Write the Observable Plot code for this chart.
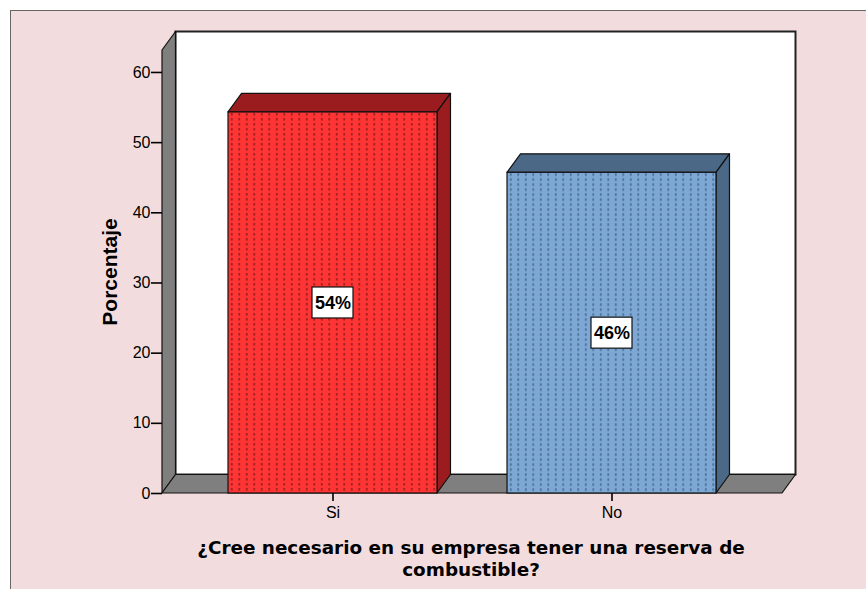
<!DOCTYPE html>
<html><head><meta charset="utf-8">
<script src="https://cdn.jsdelivr.net/npm/d3@7"></script>
<script src="https://cdn.jsdelivr.net/npm/@observablehq/plot@0.6"></script>
<style>
body{margin:0;background:#fff;}
#wrap{position:relative;width:866px;height:589px;overflow:hidden;}
#panel{position:absolute;left:10px;top:10px;width:900px;height:640px;background:#f3dcdd;border-top:1.5px solid #666;border-left:1.5px solid #666;}
#chart{position:absolute;left:0;top:0;}
</style></head><body>
<div id="wrap"><div id="panel"></div><div id="chart"></div></div>
<script>
// ---- data ----
const categories = ["Si", "No"];
const percentages = [54.3, 45.7];
const valueLabels = ["54%", "46%"];
const yTicks = [0, 10, 20, 30, 40, 50, 60];
const yMax = 63.13;
const yTitle = "Porcentaje";
const xTitleLines = ["¿Cree necesario en su empresa tener una reserva de", "combustible?"];
const frontColors = ["#ff3434", "#7da8d6"];
const darkColors = ["#9a1c1e", "#4b6987"];
const dotColors = ["#6a1414", "#33506c"];

const data = categories.map((c, i) => ({category: c, value: percentages[i], label: valueLabels[i], i}));

// 3D depth offset (pixels)
const DX = 13.5, DY = -18.5;

function walls(index, scales, values, dim) {
  const x0 = dim.marginLeft, x1 = dim.width - dim.marginRight;
  const y0 = scales.y(0), yT = scales.y(yMax);
  const g = d3.create("svg:g");
  g.append("rect").attr("x", x0 + DX).attr("y", yT + DY).attr("width", x1 - x0).attr("height", y0 - yT)
    .attr("fill", "#fff").attr("stroke", "#222").attr("stroke-width", 2);
  const poly = (pts, fill) => g.append("polygon").attr("points", pts.map(p => p.join(",")).join(" "))
    .attr("fill", fill).attr("stroke", "#111").attr("stroke-width", 1.2).attr("stroke-linejoin", "round");
  poly([[x0, y0], [x0, yT], [x0 + DX, yT + DY], [x0 + DX, y0 + DY]], "#7f7f7f");
  poly([[x0, y0], [x1, y0], [x1 + DX, y0 + DY], [x0 + DX, y0 + DY]], "#7f7f7f");
  return g.node();
}

function bars(index, scales, values, dim) {
  const g = d3.create("svg:g");
  const defs = g.append("defs");
  const bw = scales.x.bandwidth();
  const y0 = scales.y(0);
  data.forEach((d, i) => {
    const xl = scales.x(d.category), xr = xl + bw, yt = scales.y(d.value);
    const p = defs.append("pattern").attr("id", "dotpat" + i).attr("patternUnits", "userSpaceOnUse")
      .attr("x", xl).attr("y", yt).attr("width", 7.5).attr("height", 5);
    p.append("rect").attr("width", 7.5).attr("height", 5).attr("fill", frontColors[i]);
    p.append("rect").attr("x", 3.2).attr("y", 1).attr("width", 1.1).attr("height", 2.6).attr("fill", dotColors[i]);
    const poly = (pts, fill) => g.append("polygon").attr("points", pts.map(q => q.join(",")).join(" "))
      .attr("fill", fill).attr("stroke", "#111").attr("stroke-width", 1.2).attr("stroke-linejoin", "round");
    poly([[xl, yt], [xr, yt], [xr + DX, yt + DY], [xl + DX, yt + DY]], darkColors[i]);
    poly([[xr, yt], [xr + DX, yt + DY], [xr + DX, y0 + DY], [xr, y0]], darkColors[i]);
    g.append("rect").attr("x", xl).attr("y", yt).attr("width", bw).attr("height", y0 - yt)
      .attr("fill", `url(#dotpat${i})`).attr("stroke", "#111").attr("stroke-width", 1.2);
    // label box
    const cx = xl + bw / 2, cy = scales.y(d.value / 2);
    g.append("rect").attr("x", cx - 20.5).attr("y", cy - 15.5).attr("width", 41).attr("height", 31)
      .attr("fill", "#fff").attr("stroke", "#111").attr("stroke-width", 1.2);
  });
  return g.node();
}

const chart = Plot.plot({
  width: 866,
  height: 589,
  marginLeft: 162,
  marginRight: 84,
  marginTop: 50,
  marginBottom: 96,
  style: {background: "transparent", color: "#000", overflow: "visible", fontSize: "16px",
    fontFamily: "'Liberation Sans', Arial, sans-serif"},
  x: {type: "band", domain: categories, paddingInner: 0.251, paddingOuter: 0.2366, round: false},
  y: {domain: [0, yMax]},
  marks: [
    walls,
    bars,
    Plot.text(data, {x: "category", y: d => d.value / 2, text: "label",
      fontFamily: "'Liberation Sans Narrow', 'Liberation Sans', Arial, sans-serif", fontWeight: "bold", fontSize: 18, fill: "#000"}),
    Plot.axisY({ticks: yTicks, tickSize: 11, tickPadding: 1, label: null, fontSize: 16, strokeWidth: 1.6}),
    Plot.axisX({tickSize: 8, tickPadding: 5, label: null, fontSize: 16, strokeWidth: 1.6}),
    Plot.text([yTitle], {frameAnchor: "left", textAnchor: "middle", rotate: -90, dx: -52, fontSize: 21, fontWeight: "bold",
      fill: "#000"}),
    Plot.text([xTitleLines.join("\n")], {frameAnchor: "bottom", lineAnchor: "top", dy: 45, dx: -1.5,
      lineHeight: 1.2, fontSize: 18.4, fontWeight: "bold", fontFamily: "'DejaVu Sans', sans-serif", fill: "#000"})
  ]
});
document.getElementById("chart").appendChild(chart);
</script>
</body></html>
